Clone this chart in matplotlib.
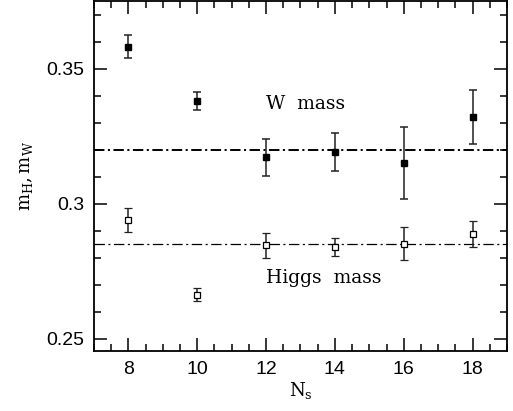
import matplotlib
matplotlib.use("Agg")
import matplotlib.pyplot as plt
from matplotlib.ticker import MultipleLocator

plt.rcParams['mathtext.fontset'] = 'dejavuserif'
plt.rcParams['lines.scale_dashes'] = False

ns = [8, 10, 12, 14, 16, 18]
w_mass = [0.3581, 0.3379, 0.3172, 0.3191, 0.3152, 0.3321]
w_err = [0.0042, 0.0033, 0.0068, 0.0069, 0.0133, 0.0101]
h_mass = [0.2940, 0.2664, 0.2846, 0.2840, 0.2852, 0.2888]
h_err = [0.0045, 0.0023, 0.0046, 0.0034, 0.0061, 0.0047]
w_line = 0.320
h_line = 0.285
xticks = [8, 10, 12, 14, 16, 18]
yticks = [0.25, 0.3, 0.35]
ytick_labels = ['0.25', '0.3', '0.35']

fig = plt.figure(figsize=(5.13, 4.11), dpi=100)
ax = fig.add_axes([0.1832, 0.146, 0.8051, 0.8516])

ax.axhline(w_line, color='black', lw=1.4, linestyle=(0, (7.5, 2.5, 1.5, 2.5)))
ax.axhline(h_line, color='black', lw=0.9, linestyle=(0, (7.5, 2.5, 1.5, 2.5)))

ax.errorbar(ns, w_mass, yerr=w_err, fmt='s', color='black', ms=4, mfc='black',
            ecolor='#222222', elinewidth=1.1, capsize=2.6, capthick=1.1)
ax.errorbar(ns, h_mass, yerr=h_err, fmt='s', color='black', ms=4, mfc='white',
            mew=0.9, ecolor='#222222', elinewidth=1.1, capsize=2.6, capthick=1.1)

ax.text(12, 0.337, 'W  mass', fontsize=13.5, family='DejaVu Serif', va='center', ha='left')
ax.text(12, 0.2725, 'Higgs  mass', fontsize=13.5, family='DejaVu Serif', va='center', ha='left')

ax.set_xlim(7, 19)
ax.set_ylim(0.2455, 0.375)
ax.set_xticks(xticks)
ax.set_xticklabels([str(v) for v in xticks])
ax.set_yticks(yticks)
ax.set_yticklabels(ytick_labels)
ax.xaxis.set_minor_locator(MultipleLocator(0.5))
ax.yaxis.set_minor_locator(MultipleLocator(0.01))
ax.tick_params(which='both', direction='in', top=True, right=True, width=1.1)
ax.tick_params(which='major', length=9.5, labelsize=14, pad=7)
ax.tick_params(which='minor', length=4.8)
for lab in ax.get_xticklabels() + ax.get_yticklabels():
    lab.set_family('Liberation Sans')
for s in ax.spines.values():
    s.set_linewidth(1.3)

ax.set_xlabel(r'$\mathrm{N_s}$', fontsize=13, labelpad=2)
ax.set_ylabel(r'$\mathrm{m_H,m_W}$', fontsize=13, labelpad=8)

fig.savefig('out.png', dpi=100)
